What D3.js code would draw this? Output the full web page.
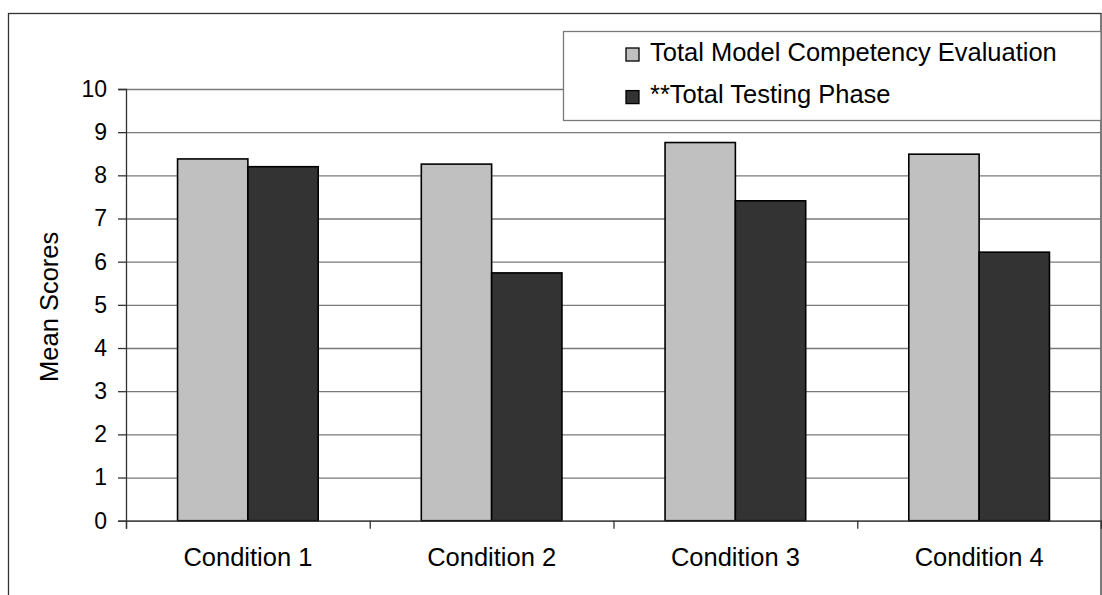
<!DOCTYPE html>
<html>
<head>
<meta charset="utf-8">
<script src="https://cdn.jsdelivr.net/npm/d3@7"></script>
<style>
  body { margin: 0; background: #fff; }
  svg { display: block; font-family: "Liberation Sans", Arial, sans-serif; }
</style>
</head>
<body>
<div id="chart"></div>
<script>
// data
const conditions = ["Condition 1", "Condition 2", "Condition 3", "Condition 4"];
const seriesNames = ["Total Model Competency Evaluation", "**Total Testing Phase"];
const competency = [8.38, 8.26, 8.76, 8.49];
const testing = [8.20, 5.74, 7.41, 6.22];
const yTicks = [0, 1, 2, 3, 4, 5, 6, 7, 8, 9, 10];
const colors = ["#c0c0c0", "#333333"];

const W = 1102, H = 595;
const plot = { left: 126, right: 1101, top: 89, bottom: 520.7 };

const svg = d3.select("#chart").append("svg")
    .attr("width", W).attr("height", H);

// chart area border (bottom runs off the picture)
svg.append("rect")
    .attr("x", 8.5).attr("y", 13.5)
    .attr("width", 1101 - 8.5).attr("height", 620)
    .attr("fill", "#fff").attr("stroke", "#333").attr("stroke-width", 1.3);

const y = d3.scaleLinear().domain([0, 10]).range([plot.bottom, plot.top]);
const x0 = d3.scaleBand().domain(conditions)
    .range([plot.left, plot.right]).paddingInner(0.423).paddingOuter(0.2115);
const x1 = d3.scaleBand().domain(seriesNames).range([0, x0.bandwidth()]);
const xEdge = d3.scaleLinear().domain([0, conditions.length]).range([plot.left, plot.right]);

// gridlines
svg.append("g")
    .attr("class", "grid")
    .attr("transform", `translate(${plot.left},0)`)
    .call(d3.axisLeft(y).tickValues(yTicks).tickSize(-(plot.right - plot.left)).tickFormat(""))
    .call(g => g.select(".domain").remove())
    .call(g => g.selectAll("line").attr("stroke", "#7a7a7a").attr("stroke-width", 1.3));

// bars
const rows = conditions.map((c, i) => ({ key: c, values: [competency[i], testing[i]] }));
svg.append("g").selectAll("g")
    .data(rows)
    .join("g")
    .attr("transform", d => `translate(${x0(d.key)},0)`)
    .selectAll("rect")
    .data(d => d.values.map((v, j) => ({ name: seriesNames[j], value: v, j: j })))
    .join("rect")
    .attr("x", d => x1(d.name))
    .attr("y", d => y(d.value))
    .attr("width", x1.bandwidth())
    .attr("height", d => y(0) - y(d.value))
    .attr("fill", d => colors[d.j])
    .attr("stroke", "#000")
    .attr("stroke-width", 1.6);

// y axis
svg.append("g")
    .attr("transform", `translate(${plot.left},0)`)
    .call(d3.axisLeft(y).tickValues(yTicks).tickSize(8).tickPadding(11))
    .call(g => g.select(".domain").attr("stroke", "#333").attr("stroke-width", 1.3))
    .call(g => g.selectAll("line").attr("stroke", "#333").attr("stroke-width", 1.3))
    .call(g => g.selectAll("text").attr("font-size", 23).attr("fill", "#000")
        .attr("font-family", "'Liberation Sans', Arial, sans-serif"));

// x axis: ticks at category edges, labels at centres
svg.append("g")
    .attr("transform", `translate(0,${plot.bottom})`)
    .call(d3.axisBottom(xEdge).ticks(conditions.length).tickSize(8).tickFormat(""))
    .call(g => g.select(".domain").attr("stroke", "#333").attr("stroke-width", 1.3))
    .call(g => g.selectAll("line").attr("stroke", "#333").attr("stroke-width", 1.3));

svg.append("g")
    .attr("transform", `translate(0,${plot.bottom})`)
    .call(d3.axisBottom(x0).tickSize(0).tickPadding(27))
    .call(g => g.select(".domain").remove())
    .call(g => g.selectAll("text").attr("font-size", 25.5).attr("fill", "#000")
        .attr("font-family", "'Liberation Sans', Arial, sans-serif"));

// y axis title
svg.append("text")
    .attr("transform", `translate(58,${(plot.top + plot.bottom) / 2 + 2}) rotate(-90)`)
    .attr("text-anchor", "middle")
    .attr("font-size", 25.5)
    .text("Mean Scores");

// legend
const legend = svg.append("g").attr("transform", "translate(563.5,31.5)");
legend.append("rect")
    .attr("width", 1101 - 563.5).attr("height", 89)
    .attr("fill", "#fff").attr("stroke", "#7a7a7a").attr("stroke-width", 1.3);

const item = legend.selectAll(".item")
    .data(seriesNames)
    .join("g")
    .attr("class", "item")
    .attr("transform", (d, i) => `translate(0,${i * 42.6})`);

item.append("rect")
    .attr("x", 62.5).attr("y", 16.5)
    .attr("width", 13).attr("height", 13)
    .attr("fill", (d, i) => colors[i])
    .attr("stroke", "#000").attr("stroke-width", 1.3);

item.append("text")
    .attr("x", 86.5).attr("y", 29.2)
    .attr("font-size", 25.5)
    .text(d => d);
</script>
</body>
</html>
